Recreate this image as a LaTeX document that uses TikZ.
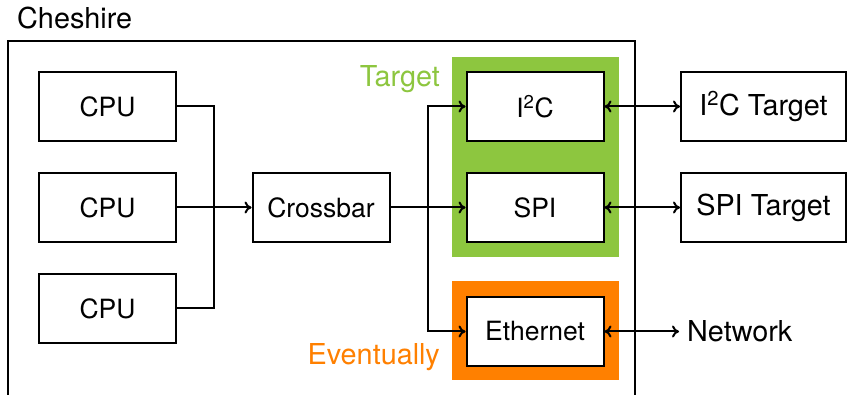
\documentclass[tikz,border=0pt]{standalone}
\usepackage{fontspec}
\setmainfont{TeX Gyre Heros}
\usetikzlibrary{arrows.meta}
\definecolor{tgtgreen}{RGB}{141,198,63}
\definecolor{evorange}{RGB}{255,128,0}
\tikzset{
  block/.style={draw, fill=white, line width=2pt, minimum width=137pt, minimum height=69pt,
    inner sep=0pt, font=\fontsize{26.5}{30}\selectfont},
  extblock/.style={block, minimum width=165pt, font=\fontsize{28.8}{32}\selectfont},
  label/.style={inner sep=0pt, font=\fontsize{28.8}{32}\selectfont},
  wire/.style={line width=2pt},
  arr/.style={wire, -{To[length=7pt,width=12pt]}},
  biarr/.style={wire, {To[length=7pt,width=12pt]}-{To[length=7pt,width=12pt]}},
}
\begin{document}
\begin{tikzpicture}[x=1pt, y=-1pt]
\clip (0,0) rectangle (847,395);
\fill[white] (0,0) rectangle (847,395);

% enclosing SoC
\draw[line width=2pt] (8,41) rectangle (635,420);
\node[label, anchor=base west] (title) at (17,29) {Cheshire};

% highlighted groups
\fill[tgtgreen] (452,57) rectangle (619,257);
\fill[evorange] (452,281) rectangle (619,380);
\node[label, anchor=base east, text=tgtgreen] (tgtlbl) at (440,87) {Target};
\node[label, anchor=base east, text=evorange] (evlbl) at (440,365) {Eventually};

% blocks
\node[block] (cpu1) at (107.5,106.5) {CPU};
\node[block] (cpu2) at (107.5,207.5) {CPU};
\node[block] (cpu3) at (107.5,308.5) {CPU};
\node[block] (xbar) at (321,207.5) {Crossbar};
\node[block] (i2c) at (535,106.5) {I\textsuperscript{2}C};
\node[block] (spi) at (535,207.5) {SPI};
\node[block] (eth) at (535,331.5) {Ethernet};

% external devices
\node[extblock] (i2ct) at (763.5,106.5) {I\textsuperscript{2}C Target};
\node[extblock] (spit) at (763.5,207.5) {SPI Target};
\node[label, anchor=west] (net) at (687,331.5) {Network};

% buses
\coordinate (bus1) at (214,207.5);
\coordinate (bus2) at (428,207.5);
\draw[wire] (cpu1.east) -| (bus1);
\draw[wire] (cpu3.east) -| (bus1);
\draw[arr] (cpu2.east) -- (xbar.west);
\draw[arr] (xbar.east) -- (spi.west);
\draw[arr] (bus2) |- (i2c.west);
\draw[arr] (bus2) |- (eth.west);

% external links
\draw[biarr] (i2c.east) -- (i2ct.west);
\draw[biarr] (spi.east) -- (spit.west);
\draw[biarr] (eth.east) -- ([xshift=-8pt]net.west);
\end{tikzpicture}
\end{document}
